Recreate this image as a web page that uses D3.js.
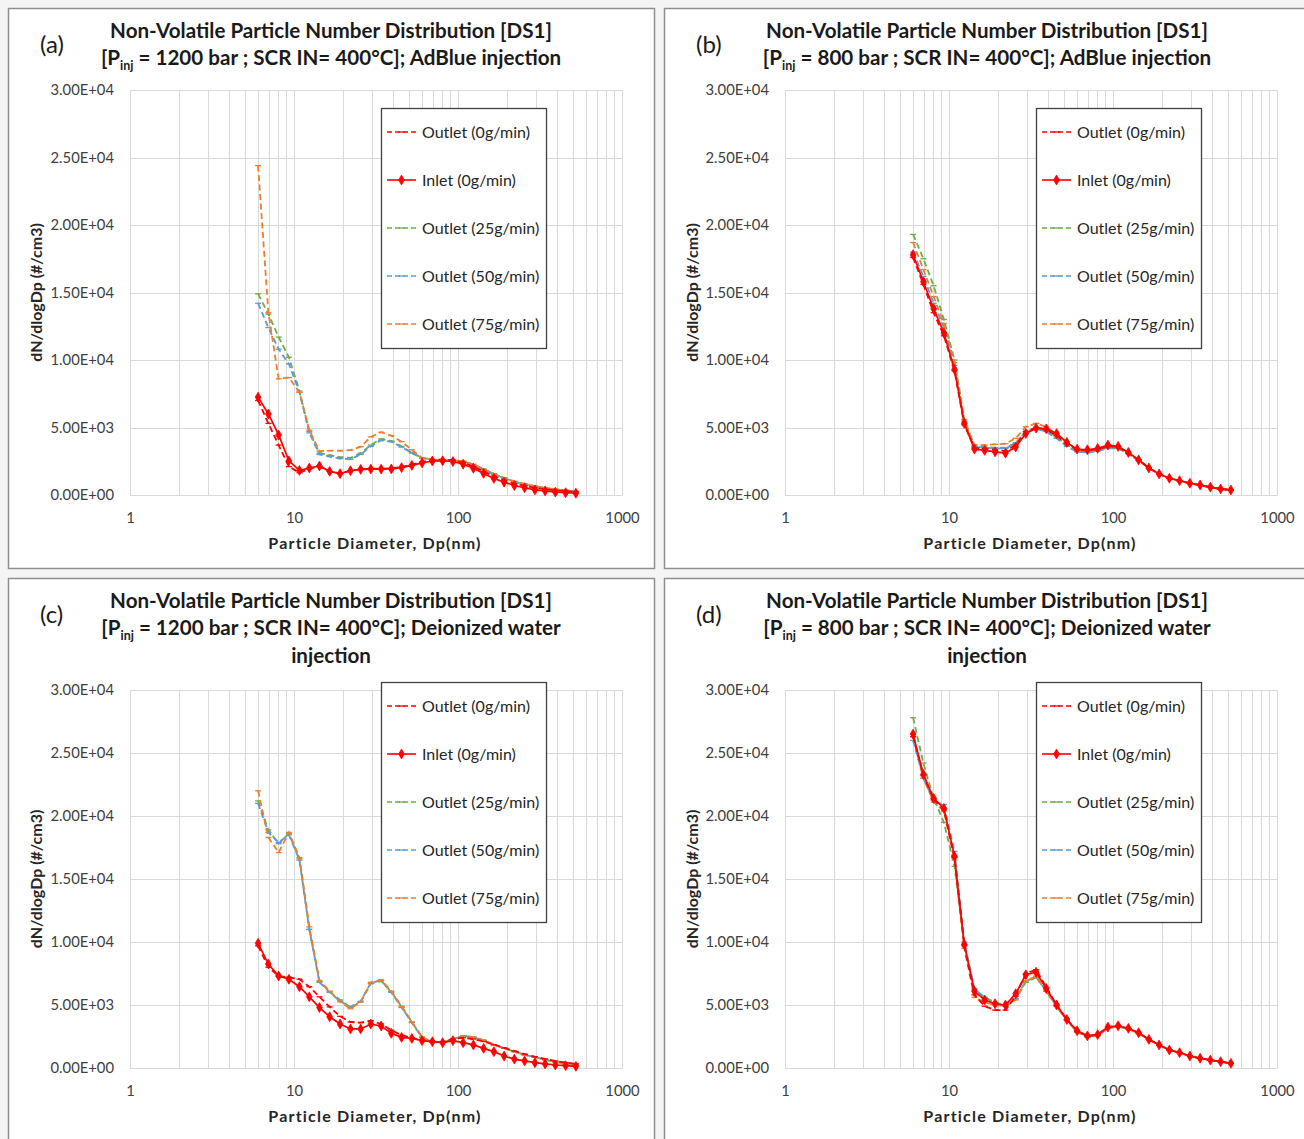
<!DOCTYPE html>
<html>
<head>
<meta charset="utf-8">
<script src="https://cdn.jsdelivr.net/npm/d3@7"></script>
<style>
  html, body { margin: 0; padding: 0; background: #f4f4f4; }
  svg { display: block; font-family: Lato, "Open Sans", "Liberation Sans", sans-serif; }
</style>
</head>
<body>
<svg id="chart" width="1304" height="1139"></svg>
<script>
// Particle mobility diameters (nm), SMPS channel midpoints
const diameters = [6.04, 6.98, 8.06, 9.31, 10.8, 12.4, 14.3, 16.5, 19.1, 22.1, 25.5, 29.4,
  34.0, 39.2, 45.3, 52.3, 60.4, 69.8, 80.6, 93.1, 107.5, 124.1, 143.3, 165.5,
  191.1, 220.7, 254.8, 294.3, 339.8, 392.4, 453.2, 523.3];

const seriesNames = ["Outlet (0g/min)", "Inlet (0g/min)", "Outlet (25g/min)", "Outlet (50g/min)", "Outlet (75g/min)"];
const seriesColors = ["#ff0000", "#ff0000", "#70ad47", "#5b9bd5", "#ed7d31"];

const yTicks = [0, 5000, 10000, 15000, 20000, 25000, 30000];
const xTicks = [1, 10, 100, 1000];

// (a) 1200 bar, AdBlue injection
const aOutlet0  = [7000, 5300, 3700, 2100, 1650, 1950, 2100, 1750, 1600, 1800, 1900, 1950, 1950, 1980, 2080, 2250, 2450, 2600, 2620, 2580, 2400, 2100, 1750, 1400, 1100, 850, 680, 530, 430, 340, 280, 230];
const aInlet    = [7250, 6000, 4450, 2530, 1820, 2000, 2150, 1750, 1580, 1800, 1900, 1920, 1920, 1930, 2030, 2200, 2380, 2520, 2540, 2480, 2280, 1980, 1600, 1230, 950, 700, 540, 380, 300, 210, 170, 130];
const aOutlet25 = [14900, 13400, 11700, 10200, 7700, 4700, 3100, 2950, 2800, 2750, 3100, 3700, 4150, 4000, 3600, 3150, 2750, 2620, 2580, 2560, 2480, 2250, 1900, 1550, 1250, 990, 800, 640, 510, 410, 330, 260];
const aOutlet50 = [14200, 12400, 10800, 9700, 7600, 4600, 3000, 2850, 2700, 2650, 3000, 3600, 4050, 3950, 3550, 3100, 2720, 2600, 2580, 2560, 2480, 2250, 1900, 1550, 1250, 990, 800, 640, 510, 410, 330, 260];
const aOutlet75 = [24400, 13500, 8600, 8700, 7600, 4800, 3250, 3280, 3280, 3330, 3580, 4300, 4650, 4400, 3950, 3350, 2750, 2640, 2600, 2580, 2500, 2280, 1930, 1580, 1280, 1010, 820, 660, 530, 420, 340, 270];

// (b) 800 bar, AdBlue injection
const bOutlet0  = [17600, 15600, 13500, 11800, 9200, 5200, 3500, 3450, 3350, 3250, 3700, 4700, 5000, 4850, 4400, 3800, 3350, 3300, 3400, 3600, 3550, 3100, 2600, 2000, 1560, 1240, 1050, 860, 730, 570, 450, 370];
const bInlet    = [17800, 15800, 13800, 12000, 9300, 5300, 3400, 3300, 3200, 3100, 3550, 4550, 4950, 4900, 4550, 3900, 3400, 3350, 3450, 3700, 3600, 3150, 2600, 2000, 1560, 1240, 1060, 870, 740, 580, 450, 370];
const bOutlet25 = [19300, 17500, 15500, 13000, 10000, 5600, 3600, 3550, 3500, 3500, 3850, 4700, 5000, 4800, 4300, 3700, 3250, 3200, 3300, 3500, 3450, 3050, 2550, 2000, 1560, 1240, 1050, 860, 730, 570, 450, 370];
const bOutlet50 = [18000, 16200, 14200, 12400, 9600, 5400, 3600, 3500, 3450, 3450, 3850, 4700, 4900, 4700, 4200, 3600, 3200, 3150, 3250, 3450, 3450, 3050, 2550, 2000, 1560, 1240, 1050, 860, 730, 570, 450, 370];
const bOutlet75 = [18700, 16700, 14700, 12700, 9800, 5500, 3700, 3700, 3750, 3800, 4200, 5050, 5300, 5050, 4500, 3850, 3350, 3300, 3400, 3600, 3550, 3100, 2600, 2000, 1560, 1240, 1050, 860, 730, 570, 450, 370];

// (c) 1200 bar, deionized water injection
const cOutlet0  = [9700, 8000, 7300, 7200, 7050, 6450, 5650, 4850, 4100, 3650, 3600, 3750, 3500, 3000, 2600, 2400, 2200, 2100, 2050, 2300, 2400, 2300, 2100, 1850, 1600, 1350, 1100, 900, 720, 560, 430, 330];
const cInlet    = [9900, 8250, 7300, 7040, 6450, 5650, 4800, 4070, 3490, 3100, 3100, 3490, 3330, 2750, 2430, 2350, 2170, 2090, 2010, 2170, 2010, 1830, 1560, 1300, 950, 700, 560, 420, 320, 240, 185, 130];
const cOutlet25 = [21200, 18900, 17800, 18600, 16600, 11000, 6850, 6050, 5400, 4800, 5250, 6700, 6900, 6050, 4850, 3650, 2450, 2050, 2050, 2300, 2550, 2450, 2200, 1850, 1580, 1300, 1050, 860, 660, 480, 330, 230];
const cOutlet50 = [21000, 18700, 17900, 18500, 16500, 11000, 6800, 6000, 5300, 4850, 5300, 6750, 6950, 6000, 4800, 3600, 2400, 2050, 2050, 2300, 2550, 2450, 2200, 1850, 1580, 1300, 1050, 860, 660, 480, 330, 230];
const cOutlet75 = [22000, 18300, 17100, 18700, 16700, 11200, 6950, 6100, 5250, 4700, 5250, 6800, 7000, 6100, 4900, 3650, 2450, 2050, 2050, 2300, 2550, 2450, 2200, 1850, 1580, 1300, 1050, 860, 660, 480, 330, 230];

// (d) 800 bar, deionized water injection
const dOutlet0  = [26300, 23200, 21300, 20500, 16700, 9700, 5800, 4900, 4600, 4600, 5700, 7500, 7800, 6400, 5000, 3850, 2950, 2550, 2650, 3250, 3350, 3150, 2800, 2270, 1830, 1430, 1220, 950, 770, 630, 500, 370];
const dInlet    = [26500, 23300, 21400, 20600, 16800, 9800, 6100, 5400, 5100, 5000, 5900, 7400, 7600, 6300, 5000, 3850, 2950, 2550, 2650, 3250, 3350, 3150, 2800, 2270, 1830, 1430, 1220, 950, 770, 630, 500, 370];
const dOutlet25 = [27800, 24200, 21400, 19500, 16000, 9800, 6200, 5600, 5200, 5000, 5500, 6800, 7200, 6100, 4900, 3800, 2900, 2500, 2600, 3150, 3300, 3100, 2750, 2270, 1830, 1430, 1220, 950, 770, 630, 500, 370];
const dOutlet50 = [26000, 23000, 21200, 20900, 17200, 10000, 6300, 5600, 5200, 4900, 5500, 6900, 7200, 6100, 4900, 3800, 2850, 2450, 2550, 3150, 3300, 3100, 2750, 2270, 1830, 1430, 1220, 950, 770, 630, 500, 370];
const dOutlet75 = [26300, 23000, 21100, 20400, 16500, 9500, 5600, 5200, 5000, 4900, 5400, 6900, 7300, 6100, 4900, 3800, 2850, 2450, 2550, 3150, 3300, 3100, 2750, 2270, 1830, 1430, 1220, 950, 770, 630, 500, 370];

const panels = [
  { label: "(a)", pressure: "1200", fluid: ["AdBlue injection"], series: [aOutlet0, aInlet, aOutlet25, aOutlet50, aOutlet75],
    box: [8, 8, 646, 560], plotX: 130, plotY: 90, plotB: 495, legendY: 108 },
  { label: "(b)", pressure: "800", fluid: ["AdBlue injection"], series: [bOutlet0, bInlet, bOutlet25, bOutlet50, bOutlet75],
    box: [664, 8, 660, 560], plotX: 785, plotY: 90, plotB: 495, legendY: 108 },
  { label: "(c)", pressure: "1200", fluid: ["Deionized water", "injection"], series: [cOutlet0, cInlet, cOutlet25, cOutlet50, cOutlet75],
    box: [8, 578, 646, 580], plotX: 130, plotY: 690, plotB: 1068, legendY: 682 },
  { label: "(d)", pressure: "800", fluid: ["Deionized water", "injection"], series: [dOutlet0, dInlet, dOutlet25, dOutlet50, dOutlet75],
    box: [664, 578, 660, 580], plotX: 785, plotY: 690, plotB: 1068, legendY: 682 }
];

const plotW = 492;
const svg = d3.select("#chart");

function fmtE(v) {
  if (v === 0) return "0.00E+00";
  const e = Math.floor(Math.log10(v));
  const m = v / Math.pow(10, e);
  return m.toFixed(2) + "E+" + String(e).padStart(2, "0");
}

// order in which the series are stacked (inlet on top)
const drawOrder = [2, 3, 4, 0, 1];

function addMarker(g, i, x, y, color) {
  if (i === 1) {
    g.append("path")
      .attr("d", d3.symbol().type(d3.symbolDiamond).size(28)())
      .attr("transform", `translate(${x},${y})`)
      .attr("fill", color).attr("stroke", color).attr("stroke-width", 0.8);
  } else {
    g.append("line")
      .attr("x1", x - 3).attr("x2", x + 3).attr("y1", y).attr("y2", y)
      .attr("stroke", color).attr("stroke-width", 1.3);
  }
}

panels.forEach(p => {
  const g = svg.append("g");
  const [bx, by, bw, bh] = p.box;
  g.append("rect").attr("x", bx + 0.5).attr("y", by + 0.5).attr("width", bw).attr("height", bh)
    .attr("fill", "#ffffff").attr("stroke", "#8f8f8f").attr("stroke-width", 1.5);

  const x = d3.scaleLog().domain([1, 1000]).range([p.plotX, p.plotX + plotW]);
  const y = d3.scaleLinear().domain([0, 30000]).range([p.plotB, p.plotY]);

  // gridlines: log minor + major verticals, horizontal at each tick
  const grid = g.append("g").attr("stroke", "#d9d9d9").attr("stroke-width", 1);
  const vLines = [];
  for (let k = 0; k < 3; k++) for (let m = 1; m < 10; m++) vLines.push(m * Math.pow(10, k));
  vLines.push(1000);
  grid.selectAll(".v").data(vLines).join("line")
    .attr("x1", d => Math.round(x(d)) + 0.5).attr("x2", d => Math.round(x(d)) + 0.5)
    .attr("y1", p.plotY).attr("y2", p.plotB);
  grid.selectAll(".h").data(yTicks).join("line")
    .attr("x1", p.plotX).attr("x2", p.plotX + plotW)
    .attr("y1", d => Math.round(y(d)) + 0.5).attr("y2", d => Math.round(y(d)) + 0.5);

  // axes
  const yAxis = d3.axisLeft(y).tickValues(yTicks).tickFormat(fmtE).tickSize(0).tickPadding(16);
  const ya = g.append("g").attr("transform", `translate(${p.plotX},0)`).call(yAxis);
  ya.select(".domain").remove();
  ya.selectAll("text").attr("font-size", 14.8).attr("fill", "#404040")
    .attr("font-family", "Lato, 'Open Sans', sans-serif");

  const xAxis = d3.axisBottom(x).tickValues(xTicks).tickFormat(d3.format("d")).tickSize(0).tickPadding(17);
  const xa = g.append("g").attr("transform", `translate(0,${p.plotB})`).call(xAxis);
  xa.select(".domain").attr("stroke", "#d9d9d9");
  xa.selectAll("text").attr("font-size", 14.8).attr("fill", "#404040")
    .attr("font-family", "Lato, 'Open Sans', sans-serif");

  // axis titles
  g.append("text").attr("x", p.plotX + plotW / 2 - 1).attr("y", p.plotB + 54)
    .attr("text-anchor", "middle").attr("font-size", 16).attr("font-weight", "bold").attr("fill", "#262626")
    .attr("letter-spacing", 1.2)
    .text("Particle Diameter, Dp(nm)");
  g.append("text")
    .attr("transform", `translate(${bx + 34},${(p.plotY + p.plotB) / 2}) rotate(-90)`)
    .attr("text-anchor", "middle").attr("font-size", 16).attr("font-weight", "bold").attr("fill", "#262626")
    .text("dN/dlogDp (#/cm3)");

  // title
  const cx = bx + 323;
  const tSize = 20.6;
  g.append("text").attr("x", cx).attr("y", by + 30).attr("text-anchor", "middle")
    .attr("font-size", tSize).attr("font-weight", "bold").attr("fill", "#1a1a1a")
    .text("Non-Volatile Particle Number Distribution [DS1]");
  const t2 = g.append("text").attr("x", cx).attr("y", by + 57).attr("text-anchor", "middle")
    .attr("font-size", tSize).attr("font-weight", "bold").attr("fill", "#1a1a1a");
  t2.append("tspan").text("[P");
  t2.append("tspan").attr("font-size", 12.5).attr("dy", 5).text("inj");
  t2.append("tspan").attr("dy", -5).text(` = ${p.pressure} bar ; SCR IN= 400°C]; ${p.fluid[0]}`);
  if (p.fluid.length > 1) {
    g.append("text").attr("x", cx).attr("y", by + 85).attr("text-anchor", "middle")
      .attr("font-size", tSize).attr("font-weight", "bold").attr("fill", "#1a1a1a").text(p.fluid[1]);
  }
  g.append("text").attr("x", bx + 32).attr("y", by + 45).attr("font-size", 24).attr("fill", "#1a1a1a")
    .text(p.label);

  // series
  const plot = g.append("g");
  drawOrder.forEach(i => {
    const vals = p.series[i];
    const pts = diameters.map((d, j) => [x(d), y(vals[j])]);
    plot.append("path").attr("d", d3.line()(pts)).attr("fill", "none")
      .attr("stroke", seriesColors[i]).attr("stroke-width", i === 1 ? 1.7 : 1.8)
      .attr("stroke-dasharray", i === 1 ? null : "6,3.5");
    const mg = plot.append("g");
    pts.forEach(([px, py]) => addMarker(mg, i, px, py, seriesColors[i]));
  });

  // legend
  const lx = p.plotX + 251, ly = p.legendY;
  const lg = g.append("g");
  lg.append("rect").attr("x", lx + 0.5).attr("y", ly + 0.5).attr("width", 165).attr("height", 240)
    .attr("fill", "#ffffff").attr("stroke", "#404040").attr("stroke-width", 1.3);
  seriesNames.forEach((name, i) => {
    const yy = ly + 24 + i * 48;
    lg.append("line").attr("x1", lx + 6).attr("x2", lx + 35).attr("y1", yy).attr("y2", yy)
      .attr("stroke", seriesColors[i]).attr("stroke-width", i === 1 ? 1.6 : 1.5)
      .attr("stroke-dasharray", i === 1 ? null : "5,3");
    addMarker(lg, i, lx + 20.5, yy, seriesColors[i]);
    lg.append("text").attr("x", lx + 41).attr("y", yy + 5.5).attr("font-size", 16).attr("fill", "#262626")
      .text(name);
  });
});
</script>
</body>
</html>
